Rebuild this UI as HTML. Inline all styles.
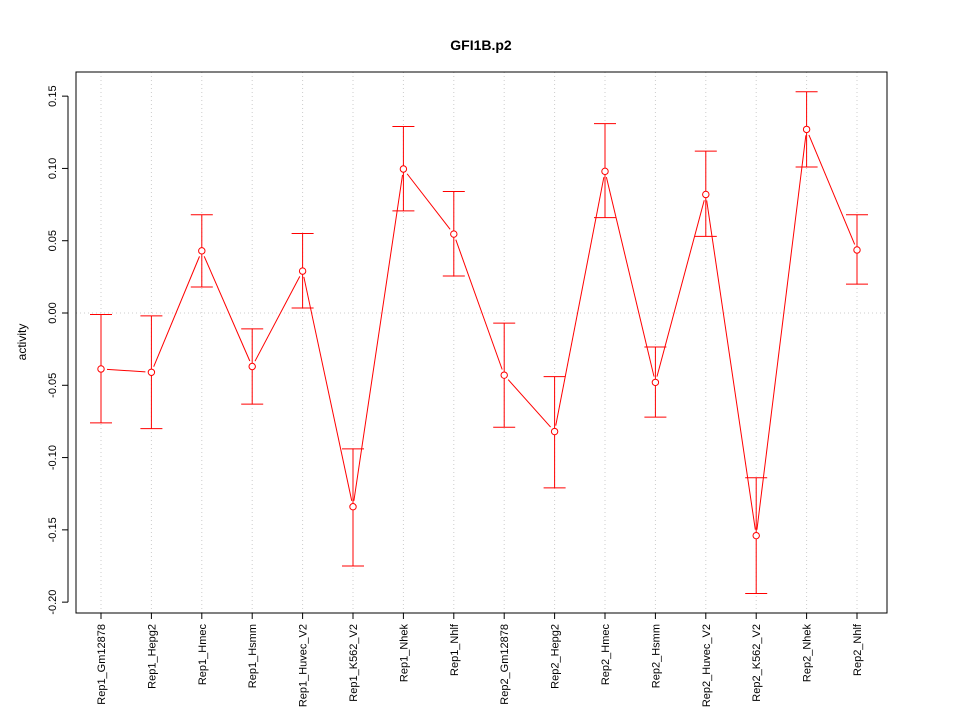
<!DOCTYPE html>
<html><head><meta charset="utf-8"><style>body{margin:0;background:#fff}svg{display:block}text{font-family:"Liberation Sans",sans-serif}</style></head>
<body>
<svg id="chart" width="960" height="720" xmlns="http://www.w3.org/2000/svg">
<text x="481" y="50" text-anchor="middle" font-size="14" font-weight="bold">GFI1B.p2</text>
<text transform="translate(26,342) rotate(-90)" text-anchor="middle" font-size="12">activity</text>
<g id="grid"></g><g id="axes"></g><g id="marks"></g>
<rect x="76" y="72" width="811" height="541" fill="none" stroke="#000"/>
</svg>
<script>
const categories=["Rep1_Gm12878","Rep1_Hepg2","Rep1_Hmec","Rep1_Hsmm","Rep1_Huvec_V2","Rep1_K562_V2","Rep1_Nhek","Rep1_Nhlf","Rep2_Gm12878","Rep2_Hepg2","Rep2_Hmec","Rep2_Hsmm","Rep2_Huvec_V2","Rep2_K562_V2","Rep2_Nhek","Rep2_Nhlf"];
const values=[-0.0387,-0.041,0.043,-0.037,0.029,-0.134,0.0996,0.0546,-0.043,-0.082,0.098,-0.048,0.082,-0.154,0.127,0.0436];
const upper=[-0.001,-0.002,0.068,-0.011,0.055,-0.094,0.129,0.084,-0.007,-0.044,0.131,-0.0235,0.112,-0.114,0.153,0.068];
const lower=[-0.076,-0.080,0.018,-0.063,0.0035,-0.175,0.0706,0.0256,-0.079,-0.121,0.066,-0.072,0.053,-0.194,0.101,0.020];
const yTicks=[-0.20,-0.15,-0.10,-0.05,0.00,0.05,0.10,0.15];
const yLabels=["-0.20","-0.15","-0.10","-0.05","0.00","0.05","0.10","0.15"];
const NS="http://www.w3.org/2000/svg";
function y(v){return 313-v*1445.7;}
function x(i){return 101+i*50.4;}
function mk(tag,attrs,parent,txt){const e=document.createElementNS(NS,tag);for(const k in attrs)e.setAttribute(k,attrs[k]);if(txt!==undefined)e.textContent=txt;document.getElementById(parent).appendChild(e);return e;}
// grid
categories.forEach((c,i)=>{const g=mk('line',{x1:x(i),x2:x(i),y1:72,y2:613,stroke:'#ccc','stroke-dasharray':'1,3'},'grid');

});
const h=mk('line',{x1:76,x2:887,y1:y(0),y2:y(0),stroke:'#ccc','stroke-dasharray':'1,3'},'grid');


// y axis
mk('line',{x1:68,x2:68,y1:y(0.15),y2:y(-0.20),stroke:'#000'},'axes');
yTicks.forEach((t,i)=>{mk('line',{x1:62,x2:68,y1:y(t),y2:y(t),stroke:'#000'},'axes');
const l=mk('text',{transform:`translate(56,${y(t)}) rotate(-90)`,'text-anchor':'middle','font-size':'11'},'axes',yLabels[i]);

});
// x axis
mk('line',{x1:x(0),x2:x(15),y1:613,y2:613,stroke:'#000'},'axes');
categories.forEach((c,i)=>{mk('line',{x1:x(i),x2:x(i),y1:613,y2:619,stroke:'#000'},'axes');
const l=mk('text',{transform:`translate(${x(i)+4},624) rotate(-90)`,'text-anchor':'end','font-size':'11'},'axes',c);

});
// lines with gaps
for(let i=0;i<values.length-1;i++){const x1=x(i),y1=y(values[i]),x2=x(i+1),y2=y(values[i+1]);const dx=x2-x1,dy=y2-y1,L=Math.hypot(dx,dy),g=6;
const s=mk('line',{x1:x1+dx*g/L,y1:y1+dy*g/L,x2:x2-dx*g/L,y2:y2-dy*g/L,stroke:'#f00'},'marks');

}
values.forEach((v,i)=>{const cx=x(i);
const b=mk('line',{x1:cx,x2:cx,y1:y(upper[i]),y2:y(lower[i]),stroke:'#f00'},'marks');


mk('line',{x1:cx-11,x2:cx+11,y1:y(upper[i]),y2:y(upper[i]),stroke:'#f00'},'marks');
mk('line',{x1:cx-11,x2:cx+11,y1:y(lower[i]),y2:y(lower[i]),stroke:'#f00'},'marks');
const p=mk('circle',{cx:cx,cy:y(v),r:3.2,fill:'#fff',stroke:'#f00'},'marks');

});
</script>
</body></html>
